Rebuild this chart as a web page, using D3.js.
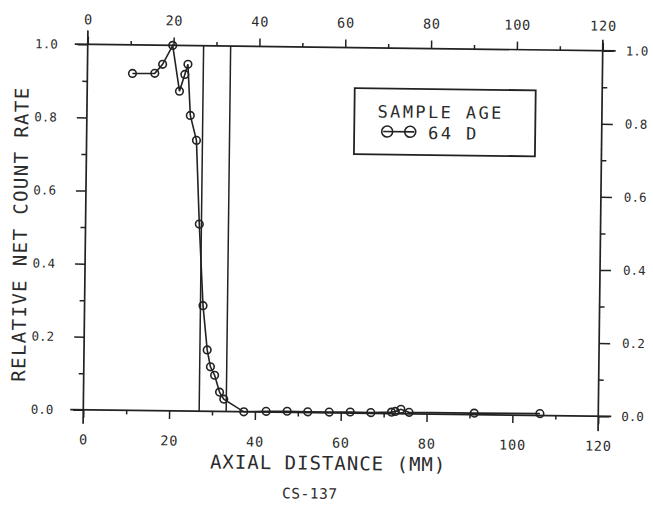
<!DOCTYPE html>
<html><head><meta charset="utf-8">
<script src="https://cdn.jsdelivr.net/npm/d3@7"></script>
<style>
html,body{margin:0;padding:0;background:#fff;}
svg{display:block;}
text{font-family:"DejaVu Sans Mono",monospace;fill:#2b2b2b;}
</style></head><body>
<svg id="chart" width="653" height="505"></svg>
<script>
// ---- data ----
const distance = [10.5, 15.7, 17.5, 19.8, 21.5, 22.7, 23.4, 24.1, 25.6, 26.5, 27.6, 28.7, 29.5, 30.5, 31.7, 32.7,
                  37.4, 42.6, 47.5, 52.3, 57.3, 62.2, 67.0, 71.8, 72.7, 74.0, 75.9, 91.1, 106.4];
const rate = [0.922, 0.923, 0.948, 1.0, 0.875, 0.921, 0.949, 0.809, 0.741, 0.512, 0.289, 0.168, 0.122, 0.099, 0.053, 0.034,
              0.0, 0.002, 0.003, 0.002, 0.002, 0.003, 0.002, 0.004, 0.006, 0.012, 0.004, 0.004, 0.005];
const xMajorTicks = [0, 20, 40, 60, 80, 100, 120];
const xMinorTicks = [10, 30, 50, 70, 90, 110];
const yMajorTicks = [0, 0.2, 0.4, 0.6, 0.8, 1.0];
const yMinorTicks = [0.1, 0.3, 0.5, 0.7, 0.9];
const markerLines = [27, 33.3];
const xTitle = "AXIAL DISTANCE (MM)";
const yTitle = "RELATIVE NET COUNT RATE";
const caption = "CS-137";
const legendTitle = "SAMPLE AGE";
const legendLabel = "64 D";

// ---- drawing ----
const svg = d3.select("#chart");
const ink = "#222";
const root = svg.append("g").attr("transform", "rotate(0.7,343,230)");

const x = d3.scaleLinear().domain([0, 120]).range([85.5, 600.5]);
const y = d3.scaleLinear().domain([0, 1]).range([413, 47.5]);
const [x0, x1] = x.range();
const [yb, yt] = y.range();

function styleAxis(g, fs, ls) {
  g.select(".domain").remove();
  g.selectAll(".tick line").attr("stroke", ink).attr("stroke-width", 1.5);
  g.selectAll(".tick text").style("font-size", fs + "px").style("letter-spacing", ls + "px");
}
const fmtY = d3.format(".1f");

// bottom axis
root.append("g").attr("transform", `translate(0,${yb})`)
  .call(d3.axisBottom(x).tickValues(xMajorTicks).tickSize(8).tickPadding(17).tickFormat(d3.format("d")))
  .call(g => styleAxis(g, 13.5, 0.8));
root.append("g").attr("transform", `translate(0,${yb})`)
  .call(d3.axisBottom(x).tickValues(xMinorTicks).tickSize(4).tickFormat(""))
  .call(g => styleAxis(g, 13.5, 0.8));
// top axis
root.append("g").attr("transform", `translate(0,${yt})`)
  .call(d3.axisTop(x).tickValues(xMajorTicks).tickSize(8).tickPadding(12).tickFormat(d3.format("d")))
  .call(g => styleAxis(g, 13.5, 0.8));
root.append("g").attr("transform", `translate(0,${yt})`)
  .call(d3.axisTop(x).tickValues(xMinorTicks).tickSize(4).tickFormat(""))
  .call(g => styleAxis(g, 13.5, 0.8));
// left axis
root.append("g").attr("transform", `translate(${x0},0)`)
  .call(d3.axisLeft(y).tickValues(yMajorTicks).tickSize(10).tickPadding(20).tickFormat(fmtY))
  .call(g => styleAxis(g, 12.5, 0));
root.append("g").attr("transform", `translate(${x0},0)`)
  .call(d3.axisLeft(y).tickValues(yMinorTicks).tickSize(5).tickFormat(""))
  .call(g => styleAxis(g, 12.5, 0));
// right axis
root.append("g").attr("transform", `translate(${x1},0)`)
  .call(d3.axisRight(y).tickValues(yMajorTicks).tickSize(11).tickPadding(12).tickFormat(fmtY))
  .call(g => styleAxis(g, 12.5, 0));
root.append("g").attr("transform", `translate(${x1},0)`)
  .call(d3.axisRight(y).tickValues(yMinorTicks).tickSize(5).tickFormat(""))
  .call(g => styleAxis(g, 12.5, 0));

// frame lines extending past the corners
const frame = root.append("g").attr("stroke", ink).attr("stroke-width", 1.7);
frame.append("line").attr("x1", x0 - 13).attr("x2", x1 + 13).attr("y1", yb).attr("y2", yb);
frame.append("line").attr("x1", x0 - 13).attr("x2", x1 + 13).attr("y1", yt).attr("y2", yt);
frame.append("line").attr("x1", x0).attr("x2", x0).attr("y1", yt - 14).attr("y2", yb + 14);
frame.append("line").attr("x1", x1).attr("x2", x1).attr("y1", yt - 11).attr("y2", yb + 15);

// vertical marker lines
root.append("g").selectAll("line").data(markerLines).join("line")
  .attr("x1", d => x(d)).attr("x2", d => x(d))
  .attr("y1", y(0)).attr("y2", y(1))
  .attr("stroke", ink).attr("stroke-width", 1.5);

// data line + markers
const pts = distance.map((d, i) => [d, rate[i]]);
root.append("path").datum(pts)
  .attr("fill", "none").attr("stroke", ink).attr("stroke-width", 1.6)
  .attr("d", d3.line().x(d => x(d[0])).y(d => y(d[1])));
root.append("g").selectAll("circle").data(pts).join("circle")
  .attr("cx", d => x(d[0])).attr("cy", d => y(d[1])).attr("r", 3.8)
  .attr("fill", "none").attr("stroke", ink).attr("stroke-width", 1.6);

// titles
root.append("text").attr("x", 331).attr("y", 470).attr("text-anchor", "middle")
  .style("font-size", "19px").style("letter-spacing", "1px").text(xTitle);
root.append("text").attr("transform", "translate(27,238) rotate(-90)").attr("text-anchor", "middle")
  .style("font-size", "19px").style("letter-spacing", "1.4px").text(yTitle);
root.append("text").attr("x", 313).attr("y", 499).attr("text-anchor", "middle")
  .style("font-size", "14.5px").style("letter-spacing", "0.5px").text(caption);

// legend
const lg = root.append("g");
lg.append("rect").attr("x", 353).attr("y", 88).attr("width", 181).attr("height", 66)
  .attr("fill", "none").attr("stroke", ink).attr("stroke-width", 1.8);
lg.append("text").attr("x", 376).attr("y", 117).style("font-size", "17px").style("letter-spacing", "2.4px").text(legendTitle);
lg.append("line").attr("x1", 382).attr("x2", 413).attr("y1", 131).attr("y2", 131).attr("stroke", ink).attr("stroke-width", 1.6);
lg.selectAll("circle").data([386, 409]).join("circle")
  .attr("cx", d => d).attr("cy", 131).attr("r", 5.5)
  .attr("fill", "none").attr("stroke", ink).attr("stroke-width", 1.6);
lg.append("text").attr("x", 427).attr("y", 138).style("font-size", "17px").style("letter-spacing", "2.4px").text(legendLabel);
</script>
</body></html>
